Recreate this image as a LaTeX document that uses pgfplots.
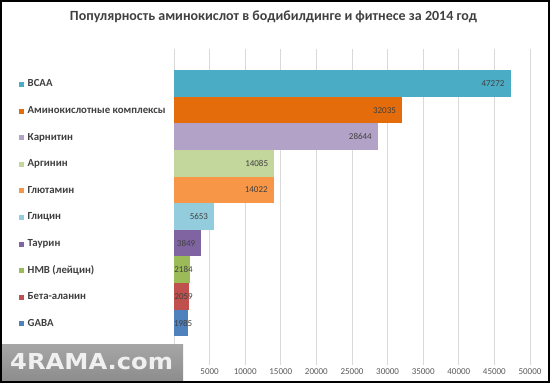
\documentclass[border=0pt]{standalone}
\usepackage{fontspec}
\setmainfont{Carlito}
\newfontfamily\wmfont{DejaVu Sans}
\usepackage{pgfplots}
\pgfplotsset{compat=1.18}
\definecolor{cBCAA}{HTML}{4BACC6}
\definecolor{cKompl}{HTML}{E46C0A}
\definecolor{cKarn}{HTML}{B3A2C7}
\definecolor{cArg}{HTML}{C3D69B}
\definecolor{cGlut}{HTML}{F79646}
\definecolor{cGlic}{HTML}{93CDDD}
\definecolor{cTaur}{HTML}{8064A2}
\definecolor{cHMB}{HTML}{9BBB59}
\definecolor{cBeta}{HTML}{C0504D}
\definecolor{cGABA}{HTML}{4F81BD}
\definecolor{txt}{HTML}{404040}
\definecolor{ticktxt}{HTML}{595959}
\definecolor{gridc}{HTML}{D9D9D9}
\newcommand{\sq}[1]{\textcolor{#1}{\rule{5bp}{5bp}}\hspace{3.5bp}}
\begin{document}
\begin{tikzpicture}
\useasboundingbox (0,0) rectangle (550bp,383bp);
\fill[white] (0,0) rectangle (550bp,383bp);
\node[anchor=base, text=txt, font=\bfseries\fontsize{14bp}{16bp}\selectfont, inner sep=0pt] at (273.5bp,362bp) {Популярность аминокислот в бодибилдинге и фитнесе за 2014 год};
\begin{axis}[
  at={(174bp,18bp)}, anchor=south west,
  scale only axis, width=356bp, height=316bp,
  xmin=0, xmax=50000, ymin=-1.58, ymax=10.3,
  axis line style={draw=none},
  xtick={0,5000,10000,15000,20000,25000,30000,35000,40000,45000,50000},
  xticklabels={{},5000,10000,15000,20000,25000,30000,35000,40000,45000,50000},
  ytick={0,1,2,3,4,5,6,7,8,9},
  yticklabels={{\sq{cGABA}GABA},{\sq{cBeta}Бета-аланин},{\sq{cHMB}HMB (лейцин)},{\sq{cTaur}Таурин},{\sq{cGlic}Глицин},{\sq{cGlut}Глютамин},{\sq{cArg}Аргинин},{\sq{cKarn}Карнитин},{\sq{cKompl}Аминокислотные комплексы},{\sq{cBCAA}BCAA}},
  major tick length=0pt,
  xmajorgrids, grid style={draw=gridc, line width=0.9bp},
  xticklabel style={font=\fontsize{9bp}{10bp}\selectfont, text=ticktxt, inner sep=0pt, anchor=north, yshift=-3bp},
  yticklabel style={font=\bfseries\fontsize{10.8bp}{12bp}\selectfont, text=txt, inner sep=0pt, anchor=base west, xshift=-155bp, yshift=-3.4bp},
  xbar, bar width=26.6bp, bar shift=0pt,
  point meta=x,
  nodes near coords={\pgfmathprintnumber[fixed,precision=0,1000 sep={},assume math mode=true]{\pgfplotspointmeta}},
  every node near coord/.append style={font=\fontsize{9bp}{10bp}\selectfont, text=txt, inner sep=0pt, anchor=east, xshift=-6bp},
]
\addplot[fill=cGABA, draw=none, every node near coord/.append style={anchor=center, xshift=1bp}] coordinates {(1985,0)};
\addplot[fill=cBeta, draw=none, every node near coord/.append style={anchor=center, xshift=1bp}] coordinates {(2059,1)};
\addplot[fill=cHMB, draw=none, every node near coord/.append style={anchor=center, xshift=0bp}] coordinates {(2184,2)};
\addplot[fill=cTaur, draw=none] coordinates {(3849,3)};
\addplot[fill=cGlic, draw=none] coordinates {(5653,4)};
\addplot[fill=cGlut, draw=none] coordinates {(14022,5)};
\addplot[fill=cArg, draw=none] coordinates {(14085,6)};
\addplot[fill=cKarn, draw=none] coordinates {(28644,7)};
\addplot[fill=cKompl, draw=none] coordinates {(32035,8)};
\addplot[fill=cBCAA, draw=none] coordinates {(47272,9)};
\end{axis}
\shade[top color=gray!70, bottom color=gray!90] (0,2bp) rectangle (183bp,38bp);
\node[anchor=base west, inner sep=0pt, xscale=1.1, text=white!88!gray, font=\wmfont\bfseries\fontsize{22bp}{22bp}\selectfont] at (10bp,14bp) {4RAMA.com};
\draw[black, line width=2bp] (1bp,1bp) rectangle (549bp,382bp);
\end{tikzpicture}
\end{document}
